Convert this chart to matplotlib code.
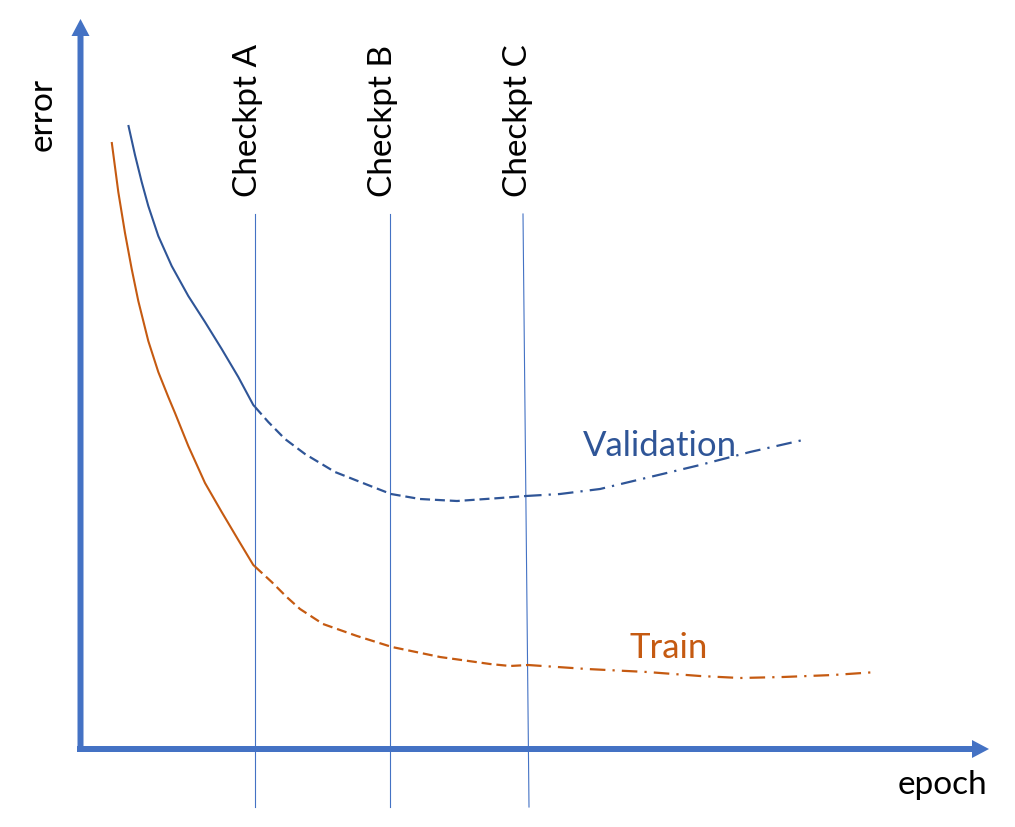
import numpy as np
import matplotlib
matplotlib.use("Agg")
import matplotlib.pyplot as plt
from matplotlib.patches import FancyArrow

# ---- data (epoch units, error units) ----
val_epoch = [4.83, 5.5, 6.17, 6.83, 7.83, 9.17, 10.83, 12.5, 14.17, 15.83, 17.33,
             18.83, 20.5, 22.5, 25.5, 29.3, 31.1, 34.0, 37.7, 42.0, 44.6, 48.0,
             52.0, 57.0, 62.0, 67.0, 72.3]
val_error = [62.2, 59.2, 56.5, 54.1, 51.1, 48.1, 45.1, 42.5, 39.8, 37.0, 34.2,
             32.5, 30.8, 29.3, 27.5, 26.0, 25.3, 24.8, 24.6, 24.9, 25.1, 25.3,
             25.8, 27.0, 28.2, 29.5, 30.7]

train_epoch = [3.17, 3.83, 4.5, 5.17, 5.83, 6.83, 7.83, 8.83, 9.5, 10.83, 12.5,
               14.17, 15.83, 17.33, 19.17, 20.67, 22.0, 24.3, 27.7, 31.2, 36.0,
               41.0, 43.0, 44.8, 50.7, 56.7, 62.0, 66.0, 70.3, 75.3, 79.7]
train_error = [60.5, 55.5, 51.4, 47.8, 44.6, 40.6, 37.5, 35.0, 33.4, 30.1, 26.4,
               23.5, 20.7, 18.2, 16.5, 15.0, 13.8, 12.3, 11.1, 10.0, 9.0,
               8.3, 8.1, 8.2, 7.8, 7.5, 7.1, 6.9, 7.0, 7.2, 7.5]

checkpoints = ["Checkpt A", "Checkpt B", "Checkpt C"]
ckpt_top = [17.5, 31.0, 44.3]
ckpt_bottom = [17.5, 31.0, 44.9]

VAL_C = "#2F5597"
TRAIN_C = "#C55A11"
AXIS_C = "#4472C4"

plt.rcParams['font.family'] = ['Lato', 'DejaVu Sans']

fig = plt.figure(figsize=(10.15, 8.28), dpi=100)
ax = fig.add_axes([0, 0, 1, 1])
ax.set_xlim(-8, 93.5)
ax.set_ylim(-8, 74.8)
ax.axis('off')

# axes arrows
ax.add_patch(FancyArrow(-0.3, -0.2, 91.2, 0, width=0.6, head_width=1.8, head_length=1.7,
                        length_includes_head=True, color=AXIS_C, lw=0))
ax.add_patch(FancyArrow(0.05, -0.5, 0, 73.3, width=0.6, head_width=1.8, head_length=1.7,
                        length_includes_head=True, color=AXIS_C, lw=0))

# checkpoint lines
for xt, xb in zip(ckpt_top, ckpt_bottom):
    ax.plot([xt, xb], [53.3, -6.0], color=AXIS_C, lw=0.8)


def segments(ex, er, a, c):
    ex = np.asarray(ex, float)
    er = np.asarray(er, float)
    out = []
    for lo, hi in [(-np.inf, a), (a, c), (c, np.inf)]:
        m = (ex > lo) & (ex < hi)
        xs = list(ex[m])
        ys = list(er[m])
        if np.isfinite(lo):
            xs.insert(0, lo)
            ys.insert(0, np.interp(lo, ex, er))
        if np.isfinite(hi):
            xs.append(hi)
            ys.append(np.interp(hi, ex, er))
        out.append((xs, ys))
    return out


styles = ['-', (0, (4.5, 2.2)), (0, (7, 3.2, 1, 3.2))]
lws = [1.5, 1.6, 1.6]
for ex, er, col in [(val_epoch, val_error, VAL_C), (train_epoch, train_error, TRAIN_C)]:
    for (xs, ys), ls, lw in zip(segments(ex, er, 17.5, 44.6), styles, lws):
        ax.plot(xs, ys, color=col, lw=lw, ls=ls, solid_capstyle='butt',
                dash_capstyle='butt', solid_joinstyle='round')

# labels
for name, x in zip(checkpoints, [17.7, 31.2, 44.7]):
    ax.text(x, 55.1, name, rotation=90, rotation_mode='anchor', ha='left', va='baseline',
            fontsize=24, color='black')

ax.text(-2.8, 63.4, "error", rotation=90, rotation_mode='anchor', ha='center', va='baseline',
        fontsize=24, color='black')
ax.text(81.8, -4.6, "epoch", ha='left', va='baseline', fontsize=24, color='black')
ax.text(50.3, 29.2, "Validation", ha='left', va='baseline', fontsize=25, color=VAL_C)
ax.text(55.0, 9.0, "Train", ha='left', va='baseline', fontsize=25, color=TRAIN_C)

fig.savefig("out.png", dpi=100)
